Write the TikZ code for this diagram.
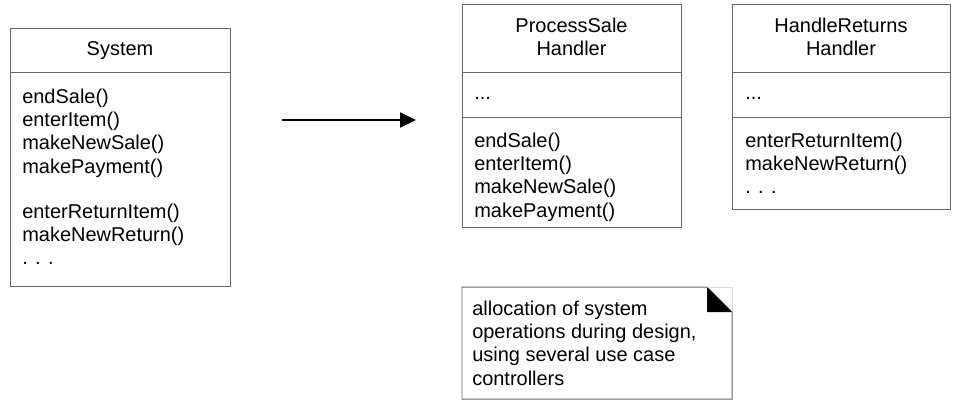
\documentclass[tikz,border=0pt]{standalone}
\usepackage{fontspec}
\setmainfont{Liberation Sans}
\usetikzlibrary{arrows.meta}

\tikzset{
  box/.style={draw=black!60, line width=.7pt},
  txt/.style={inner sep=0pt, align=left, font=\fontsize{14.2}{16.6}\selectfont},
  ttl/.style={inner sep=0pt, align=center, font=\fontsize{14.2}{16.6}\selectfont},
}

\begin{document}
\begin{tikzpicture} [x=0.025cm, y=-0.025cm]
  \useasboundingbox (0,0) rectangle (960,404);
  % class System
  \draw [box] (10,28) rectangle (230,286);
  \draw [box] (10,72) -- (230,72);
  \node [ttl, anchor=base] (sysName) at (120,55) {System};
  \node [txt, anchor=north west] (sysOps) at (22,88.5) {endSale()\\enterItem()\\makeNewSale()\\makePayment()};
  \node [txt, anchor=north west] (sysRet) at (22,203.5) {enterReturnItem()\\makeNewReturn()\\. . .};
  % arrow
  \coordinate (arrFrom) at (282,120);
  \coordinate (arrTo) at (416,120);
  \draw [-{Triangle[length=11.3pt, width=10.6pt]}, line width=1.4pt] (arrFrom) -- (arrTo);
  % class ProcessSaleHandler
  \draw [box] (462,4) rectangle (681,227);
  \draw [box] (462,72) -- (681,72);
  \draw [box] (462,117) -- (681,117);
  \node [ttl, anchor=north] (psName) at (571.5,17.5) {ProcessSale\\Handler};
  \node [txt, anchor=base west] (psAttr) at (474,99) {...};
  \node [txt, anchor=north west] (psOps) at (474,132.5) {endSale()\\enterItem()\\makeNewSale()\\makePayment()};
  % class HandleReturnsHandler
  \draw [box] (732,4) rectangle (950,209);
  \draw [box] (732,72) -- (950,72);
  \draw [box] (732,117) -- (950,117);
  \node [ttl, anchor=north] (hrName) at (841,17.5) {HandleReturns\\Handler};
  \node [txt, anchor=base west] (hrAttr) at (745,99) {...};
  \node [txt, anchor=north west] (hrOps) at (745,132.5) {enterReturnItem()\\makeNewReturn()\\. . .};
  % note
  \draw [box] (462,287) -- (707,287) -- (732,312) -- (732,399) -- (462,399) -- cycle;
  \draw [black!15, line width=.7pt] (707,287) -- (732,287) -- (732,312);
  \fill (707,287) -- (707,312) -- (732,312) -- cycle;
  \node [txt, anchor=north west] (noteTxt) at (472,300.5) {allocation of system\\operations during design,\\using several use case\\controllers};
\end{tikzpicture}
\end{document}
